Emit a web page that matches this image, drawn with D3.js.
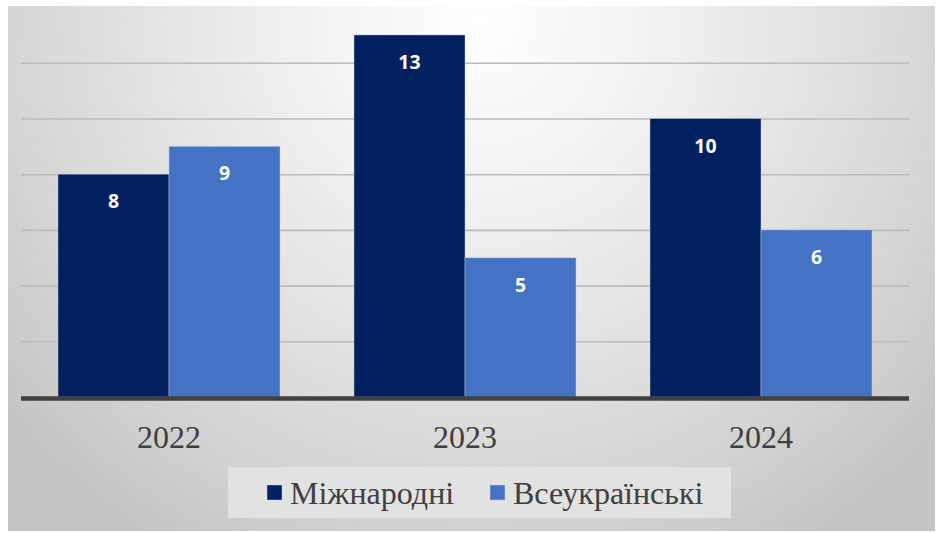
<!DOCTYPE html>
<html>
<head>
<meta charset="utf-8">
<script src="https://cdn.jsdelivr.net/npm/d3@7/dist/d3.min.js"></script>
<style>
  html, body { margin: 0; padding: 0; background: #ffffff; }
  svg { display: block; }
</style>
</head>
<body>
<svg id="chart" width="939" height="533"></svg>
<script>
// Chart data
const years = ["2022", "2023", "2024"];
const seriesNames = ["Міжнародні", "Всеукраїнські"];
const international = [8, 13, 10];
const national = [9, 5, 6];
const gridTicks = [2, 4, 6, 8, 10, 12];

const colors = ["#002060", "#4472C4"];
const rows = years.map((y, i) => ({ year: y, values: [international[i], national[i]] }));

const svg = d3.select("#chart");

// Background panel with a soft radial light
const defs = svg.append("defs");
const grad = defs.append("radialGradient")
  .attr("id", "bg").attr("gradientUnits", "userSpaceOnUse")
  .attr("cx", 480).attr("cy", 20).attr("r", 620).attr("fx", 480).attr("fy", 20);
grad.append("stop").attr("offset", "0").attr("stop-color", "#ffffff");
grad.append("stop").attr("offset", "0.35").attr("stop-color", "#eeeeee");
grad.append("stop").attr("offset", "0.75").attr("stop-color", "#d6d6d6");
grad.append("stop").attr("offset", "1").attr("stop-color", "#c4c4c4");

svg.append("rect").attr("x", 8).attr("y", 6).attr("width", 927).attr("height", 525)
  .attr("fill", "url(#bg)");

// Scales
const x0 = d3.scaleBand().domain(years).range([21, 909]).paddingInner(0.25).paddingOuter(0.125);
const x1 = d3.scaleBand().domain([0, 1]).range([0, x0.bandwidth()]);
const y = d3.scaleLinear().domain([0, 14]).range([397, 7.1]);

// Gridlines
const yAxis = d3.axisLeft(y).tickValues(gridTicks).tickSize(-(909 - 21)).tickFormat("");
const gAxis = svg.append("g").attr("transform", "translate(21,0)").call(yAxis);
gAxis.select(".domain").remove();
gAxis.selectAll(".tick line").attr("stroke", "#bbbbbb").attr("stroke-width", 1.6);

// Bars
const groups = svg.append("g").selectAll("g").data(rows).join("g")
  .attr("transform", d => `translate(${x0(d.year)},0)`);

groups.selectAll("rect").data(d => d.values.map((v, k) => ({ v, k }))).join("rect")
  .attr("x", d => x1(d.k))
  .attr("y", d => y(d.v))
  .attr("width", x1.bandwidth())
  .attr("height", d => y(0) - y(d.v))
  .attr("fill", d => colors[d.k])
  .attr("stroke", "rgba(200,210,230,0.55)")
  .attr("stroke-width", 0.8);

// Value labels
groups.selectAll("text").data(d => d.values.map((v, k) => ({ v, k }))).join("text")
  .attr("x", d => x1(d.k) + x1.bandwidth() / 2)
  .attr("y", d => y(d.v) + 34)
  .attr("text-anchor", "middle")
  .attr("fill", "#ffffff")
  .attr("font-family", "'Open Sans', 'Liberation Sans', sans-serif")
  .attr("font-weight", "bold")
  .attr("font-size", 19.5)
  .text(d => d.v);

// Baseline
svg.append("line").attr("x1", 21).attr("x2", 909).attr("y1", y(0) + 1.5).attr("y2", y(0) + 1.5)
  .attr("stroke", "#404040").attr("stroke-width", 4.5);

// Category labels
const xAxis = d3.axisBottom(x0).tickSize(0).tickPadding(0);
const gx = svg.append("g").attr("transform", "translate(0,448)").call(xAxis);
gx.select(".domain").remove();
gx.selectAll("text")
  .attr("dy", 0).attr("y", 0)
  .attr("fill", "#404040")
  .attr("font-family", "'Liberation Serif', 'Times New Roman', serif")
  .attr("font-size", 32);

// Legend
const pattern = defs.append("pattern").attr("id", "lgpat").attr("patternUnits", "userSpaceOnUse")
  .attr("width", 2).attr("height", 2);
pattern.append("rect").attr("width", 2).attr("height", 2).attr("fill", "#e6e6e6");
pattern.append("rect").attr("width", 1).attr("height", 1).attr("fill", "#dedede");
pattern.append("rect").attr("x", 1).attr("y", 1).attr("width", 1).attr("height", 1).attr("fill", "#dedede");

svg.append("rect").attr("x", 228).attr("y", 467).attr("width", 503).attr("height", 51)
  .attr("fill", "url(#lgpat)");

const legendX = [267, 490];
const lg = svg.append("g").selectAll("g").data(seriesNames).join("g")
  .attr("transform", (d, i) => `translate(${legendX[i]},485)`);
lg.append("rect").attr("width", 15).attr("height", 15)
  .attr("fill", (d, i) => colors[i])
  .attr("stroke", "rgba(200,210,230,0.6)").attr("stroke-width", 0.8);
lg.append("text").attr("x", 23).attr("y", 19)
  .attr("fill", "#404040")
  .attr("font-family", "'Liberation Serif', 'Times New Roman', serif")
  .attr("font-size", 32)
  .text(d => d);
</script>
</body>
</html>
